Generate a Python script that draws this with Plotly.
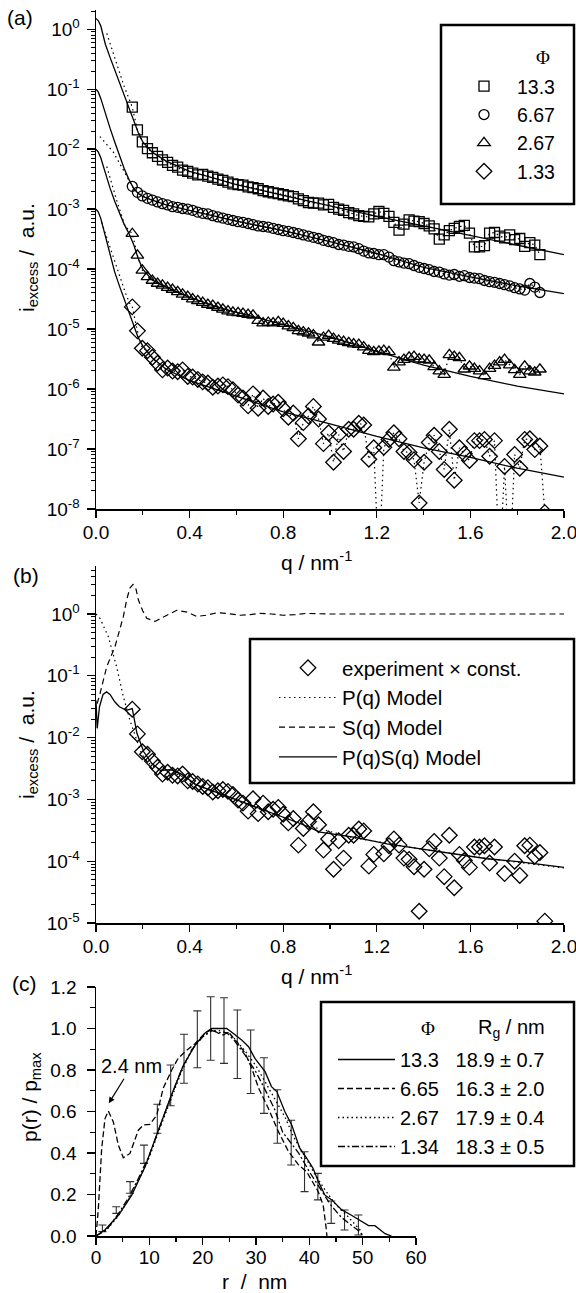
import numpy as np
import plotly.graph_objects as go

# ---------------- panel (a): excess scattering intensity (log10 values) ----------------
q_a = [0.155, 0.177, 0.198, 0.220, 0.241, 0.263, 0.284, 0.306, 0.327, 0.349,
       0.370, 0.392, 0.413, 0.435, 0.456, 0.478, 0.499, 0.521, 0.542, 0.564,
       0.585, 0.607, 0.628, 0.650, 0.671, 0.693, 0.714, 0.736, 0.757, 0.779,
       0.800, 0.822, 0.843, 0.865, 0.886, 0.908, 0.929, 0.951, 0.972, 0.994,
       1.015, 1.037, 1.058, 1.080, 1.101, 1.123, 1.144, 1.166, 1.187, 1.209,
       1.230, 1.252, 1.273, 1.295, 1.316, 1.338, 1.359, 1.381, 1.402, 1.424,
       1.445, 1.467, 1.488, 1.510, 1.531, 1.553, 1.574, 1.596, 1.617, 1.639,
       1.660, 1.682, 1.703, 1.725, 1.746, 1.768, 1.789, 1.811, 1.832, 1.854,
       1.875, 1.897, 1.918]

log_i_phi13_3 = [-1.30, -1.68, -1.88, -1.99, -2.06, -2.12, -2.18, -2.22, -2.27, -2.30,
                 -2.35, -2.37, -2.40, -2.43, -2.42, -2.45, -2.47, -2.50, -2.52, -2.55,
                 -2.58, -2.59, -2.60, -2.63, -2.64, -2.66, -2.69, -2.71, -2.73, -2.74,
                 -2.76, -2.78, -2.79, -2.83, -2.86, -2.89, -2.90, -2.90, -2.93, -2.92,
                 -2.97, -3.00, -3.02, -3.06, -3.08, -3.11, -3.12, -3.13, -3.08, -3.04,
                 -3.07, -3.12, -3.22, -3.35, -3.25, -3.18, -3.20, -3.21, -3.24, -3.28,
                 -3.33, -3.50, -3.43, -3.36, -3.32, -3.29, -3.27, -3.40, -3.63, -3.63,
                 -3.61, -3.40, -3.39, -3.45, -3.48, -3.43, -3.51, -3.49, -3.62, -3.56,
                 -3.60, -3.76, None]

log_i_phi6_67 = [-2.62, -2.72, -2.78, -2.82, -2.85, -2.88, -2.91, -2.93, -2.96, -2.97,
                 -2.99, -3.00, -3.02, -3.05, -3.07, -3.08, -3.11, -3.13, -3.15, -3.17,
                 -3.19, -3.21, -3.22, -3.24, -3.26, -3.28, -3.29, -3.30, -3.32, -3.34,
                 -3.36, -3.37, -3.39, -3.41, -3.43, -3.45, -3.47, -3.49, -3.52, -3.54,
                 -3.56, -3.59, -3.60, -3.62, -3.63, -3.66, -3.70, -3.73, -3.74, -3.76,
                 -3.76, -3.80, -3.86, -3.88, -3.90, -3.91, -3.94, -3.97, -3.99, -4.01,
                 -4.04, -4.05, -4.08, -4.10, -4.09, -4.12, -4.11, -4.14, -4.15, -4.16,
                 -4.19, -4.21, -4.22, -4.24, -4.26, -4.28, -4.31, -4.33, -4.35, -4.24,
                 -4.30, -4.39, None]

log_i_phi2_67 = [-3.41, -3.77, -4.02, -4.13, -4.19, -4.24, -4.27, -4.31, -4.34, -4.38,
                 -4.42, -4.46, -4.50, -4.53, -4.56, -4.59, -4.61, -4.64, -4.67, -4.70,
                 -4.72, -4.73, -4.74, -4.76, -4.77, -4.86, -4.90, -4.89, -4.90, -4.88,
                 -4.91, -4.95, -4.98, -5.03, -5.05, -5.07, -5.10, -5.22, -5.14, -5.11,
                 -5.16, -5.19, -5.21, -5.23, -5.25, -5.26, -5.30, -5.36, -5.38, -5.37,
                 -5.36, -5.38, -5.64, -5.55, -5.51, -5.47, -5.46, -5.50, -5.51, -5.52,
                 -5.63, -5.70, -5.76, -5.43, -5.46, -5.48, -5.67, -5.62, -5.66, -5.70,
                 -5.78, -5.66, -5.61, -5.55, -5.51, -5.60, -5.68, -5.76, -5.62, -5.70,
                 -5.72, -5.67, None]

log_i_phi1_33 = [-4.63, -5.03, -5.32, -5.36, -5.47, -5.57, -5.68, -5.65, -5.70, -5.71,
                 -5.68, -5.79, -5.80, -5.84, -5.88, -5.90, -5.97, -5.95, -5.93, -5.96,
                 -6.01, -6.10, -6.15, -6.28, -6.08, -6.32, -6.15, -6.29, -6.25, -6.22,
                 -6.33, -6.47, -6.40, -6.83, -6.56, -6.45, -6.29, -6.50, -6.91, -6.73,
                 -7.22, -6.76, -7.04, -6.67, -6.67, -6.57, -6.60, -7.17, -6.98, -9.00,
                 -6.97, -6.84, -6.73, -6.83, -7.04, -7.06, -7.18, -7.90, -7.22, -6.89,
                 -6.77, -7.04, -7.34, -6.67, -7.52, -6.98, -7.08, -7.19, -6.86, -6.86,
                 -6.84, -7.12, -6.86, -9.00, -7.29, -9.00, -7.09, -7.32, -6.84, -6.83,
                 -7.01, -6.95, -8.06]

# model fits (solid lines)
fit_q = [0.00, 0.01, 0.02, 0.03, 0.04, 0.06, 0.08, 0.10, 0.12, 0.14, 0.16, 0.18, 0.20,
         0.24, 0.30, 0.40, 0.50, 0.60, 0.80, 1.00, 1.20, 1.40, 1.60, 1.80, 2.00]
log_fit_phi13_3 = [0.18, 0.14, 0.06, -0.10, -0.25, -0.47, -0.68, -0.88, -1.08, -1.28, -1.50, -1.72, -1.88,
                   -2.05, -2.20, -2.37, -2.48, -2.59, -2.77, -2.95, -3.12, -3.28, -3.44, -3.60, -3.76]
log_fit_phi6_67 = [-1.00, -1.05, -1.15, -1.28, -1.42, -1.65, -1.88, -2.10, -2.32, -2.50, -2.65, -2.74, -2.79,
                   -2.85, -2.93, -3.02, -3.11, -3.20, -3.36, -3.54, -3.74, -3.97, -4.13, -4.28, -4.41]
log_fit_phi2_67 = [-2.00, -2.05, -2.14, -2.27, -2.42, -2.65, -2.87, -3.07, -3.25, -3.40, -3.58, -3.82, -4.00,
                   -4.18, -4.30, -4.47, -4.61, -4.72, -4.92, -5.13, -5.37, -5.60, -5.79, -5.95, -6.08]
log_fit_phi1_33 = [-3.00, -3.05, -3.15, -3.30, -3.47, -3.78, -4.05, -4.28, -4.50, -4.72, -4.94, -5.14, -5.28,
                   -5.48, -5.67, -5.86, -5.99, -6.12, -6.38, -6.58, -6.79, -6.98, -7.14, -7.32, -7.47]

# low-q continuation of the dotted data curves
ext_q_phi13_3 = [0.046, 0.088, 0.120, 0.145]
log_ext_phi13_3 = [-0.07, -0.57, -0.95, -1.20]
ext_q_phi6_67 = [0.017, 0.074, 0.117, 0.145]
log_ext_phi6_67 = [-1.79, -2.05, -2.35, -2.56]
ext_q_phi2_67 = [0.046, 0.088, 0.124, 0.145]
log_ext_phi2_67 = [-2.29, -2.85, -3.28, -3.38]
ext_q_phi1_33 = [0.024, 0.060, 0.100, 0.126, 0.145]
log_ext_phi1_33 = [-3.22, -3.62, -4.10, -4.40, -4.58]

# ---------------- panel (b): Phi = 1.33 data and models ----------------
exp_const = 1.23e3
pq_q = [0.0, 0.017, 0.053, 0.088, 0.117, 0.145, 0.174, 0.195, 0.22, 0.26, 0.30, 0.36, 0.43,
        0.53, 0.60, 0.76, 0.90, 1.10, 1.40, 1.70, 2.00]
log_pq = [0.0, -0.07, -0.37, -0.85, -1.34, -1.72, -2.04, -2.26, -2.40, -2.50, -2.55, -2.61, -2.77,
          -2.92, -3.02, -3.24, -3.42, -3.62, -3.81, -3.97, -4.11]
s_q = [0.005, 0.017, 0.046, 0.081, 0.117, 0.131, 0.145, 0.158, 0.170, 0.181, 0.200, 0.217, 0.252,
       0.302, 0.345, 0.390, 0.430, 0.470, 0.516, 0.560, 0.615, 0.660, 0.700, 0.750, 0.800, 0.850,
       0.900, 1.000, 1.200, 1.500, 2.000]
log_s = [-1.45, -1.29, -0.85, -0.53, -0.04, 0.23, 0.42, 0.48, 0.42, 0.23, 0.05, -0.07, -0.12,
         -0.02, 0.06, 0.03, -0.04, -0.02, 0.02, 0.01, -0.02, -0.01, 0.01, 0.0, -0.02, -0.01,
         0.01, 0.0, 0.0, 0.0, 0.0]
pqsq_q = [0.0, 0.005, 0.015, 0.03, 0.045, 0.06, 0.08, 0.10, 0.13, 0.155, 0.175, 0.204, 0.239,
          0.275, 0.318, 0.36, 0.432, 0.531, 0.603, 0.674, 0.759, 0.873, 0.958, 1.101, 1.244,
          1.386, 1.529, 1.671, 1.813, 2.0]
log_pqsq = [-1.40, -1.85, -1.50, -1.30, -1.26, -1.30, -1.42, -1.50, -1.56, -1.53, -1.93, -2.23, -2.42,
            -2.53, -2.52, -2.58, -2.77, -2.91, -3.01, -3.12, -3.23, -3.39, -3.53, -3.61, -3.72,
            -3.80, -3.88, -3.96, -4.01, -4.10]

# ---------------- panel (c): pair distance distributions ----------------
r_phi13_3 = [0, 1.7, 4.2, 6.7, 9.2, 11.4, 13.9, 16.4, 18.6, 20.4, 21.7, 23.2, 24.5, 25.7, 27.3,
             28.6, 29.8, 31.7, 32.9, 33.9, 35.4, 36.7, 38.2, 39.5, 40.7, 41.7, 42.9, 44.2, 46.1,
             47.9, 49.8, 51.1, 52.3, 54.2, 55.4]
p_phi13_3 = [0, 0.03, 0.10, 0.197, 0.334, 0.487, 0.664, 0.824, 0.92, 0.977, 1.0, 1.0, 1.0, 0.977,
             0.945, 0.912, 0.856, 0.792, 0.72, 0.696, 0.60, 0.535, 0.423, 0.375, 0.326, 0.262,
             0.198, 0.174, 0.126, 0.10, 0.069, 0.05, 0.05, 0.011, 0.0]
r_phi6_65 = [0, 0.44, 1.06, 1.69, 2.31, 3.25, 4.19, 5.12, 6.37, 7.94, 8.9, 10.1, 11.4, 12.6, 14.2,
             15.4, 16.7, 18.6, 20.4, 21.7, 22.9, 23.9, 24.8, 26.4, 28.0, 29.2, 30.5, 32.3, 34.2,
             36.1, 38.0, 39.5, 41.7, 42.6, 43.1, 43.3]
p_phi6_65 = [0, 0.132, 0.42, 0.566, 0.602, 0.55, 0.438, 0.377, 0.398, 0.51, 0.535, 0.538, 0.583,
             0.712, 0.80, 0.856, 0.888, 0.928, 0.977, 0.997, 0.977, 0.968, 0.984, 0.936, 0.88,
             0.808, 0.712, 0.616, 0.503, 0.407, 0.342, 0.31, 0.212, 0.148, 0.05, 0.0]
r_phi2_67 = [0, 2, 4, 6, 8, 10, 12, 14, 16, 18, 20, 21.7, 23, 24.5, 26, 28, 30, 32, 34, 35.5, 37,
             39, 41, 43, 45, 47, 48.5, 49.5, 50]
p_phi2_67 = [0, 0.03, 0.09, 0.17, 0.27, 0.38, 0.52, 0.66, 0.79, 0.90, 0.96, 0.99, 0.99, 0.985,
             0.95, 0.89, 0.82, 0.73, 0.64, 0.57, 0.48, 0.39, 0.30, 0.22, 0.15, 0.10, 0.06, 0.03, 0.0]
r_phi1_34 = [0, 2, 4, 6, 8, 10, 12, 14, 16, 18, 20, 21.7, 23, 24.5, 26, 28, 30, 32, 33.5, 35, 36.5,
             38, 40, 42, 44, 46, 48, 49.5, 50]
p_phi1_34 = [0, 0.03, 0.10, 0.18, 0.28, 0.39, 0.53, 0.67, 0.80, 0.90, 0.96, 0.99, 0.98, 0.98, 0.94,
             0.87, 0.79, 0.69, 0.61, 0.50, 0.45, 0.40, 0.31, 0.23, 0.15, 0.09, 0.05, 0.02, 0.0]
err_r = [1.2, 3.8, 6.4, 9.0, 11.5, 14.0, 16.5, 19.0, 21.5, 24.0, 26.5, 29.0, 31.5, 34.0, 36.6,
         39.1, 41.6, 44.1, 46.6, 49.2]
err_p = [0.037, 0.125, 0.234, 0.394, 0.565, 0.726, 0.854, 0.948, 1.0, 0.99, 0.924, 0.84, 0.725,
         0.576, 0.45, 0.31, 0.238, 0.115, 0.077, 0.053]
err_d = [0.016, 0.016, 0.028, 0.044, 0.07, 0.098, 0.118, 0.137, 0.153, 0.158, 0.165, 0.153, 0.134,
         0.129, 0.108, 0.096, 0.064, 0.054, 0.048, 0.048]

legend_a = ["13.3", "6.67", "2.67", "1.33"]
legend_b = ["experiment \u00d7 const.", "P(q) Model", "S(q) Model", "P(q)S(q) Model"]
legend_c_phi = ["13.3", "6.65", "2.67", "1.34"]
legend_c_rg = ["18.9 \u00b1 0.7", "16.3 \u00b1 2.0", "17.9 \u00b1 0.4", "18.3 \u00b1 0.5"]


def e10(v):
    return np.power(10.0, np.array(v, dtype=float))


# ---------------- layout geometry (pixels -> paper) ----------------
W, H = 576, 1293
ML, MR, MT, MB = 96, 12, 10, 57
PW, PH = W - ML - MR, H - MT - MB


def px(x):
    return (x - ML) / PW


def py(y):
    return (H - MB - y) / PH


FONT = "Liberation Sans, Arial, sans-serif"
SERIF = "Liberation Serif, Times New Roman, serif"
K = "black"
DOT = "1.5px,3.5px"

fig = go.Figure()

# ---- panel (a)
series_a = [
    (legend_a[0], log_i_phi13_3, log_fit_phi13_3, ext_q_phi13_3, log_ext_phi13_3, "square-open", 10),
    (legend_a[1], log_i_phi6_67, log_fit_phi6_67, ext_q_phi6_67, log_ext_phi6_67, "circle-open", 10),
    (legend_a[2], log_i_phi2_67, log_fit_phi2_67, ext_q_phi2_67, log_ext_phi2_67, "triangle-up-open", 11),
    (legend_a[3], log_i_phi1_33, log_fit_phi1_33, ext_q_phi1_33, log_ext_phi1_33, "diamond-open", 12),
]
for name, logv, fitlog, extq, extlog, sym, size in series_a:
    fig.add_trace(go.Scatter(x=fit_q, y=e10(fitlog), mode="lines", line=dict(color=K, width=1.3),
                             showlegend=False, hoverinfo="skip", xaxis="x", yaxis="y"))
    fig.add_trace(go.Scatter(x=extq + q_a, y=e10(extlog + logv), mode="lines",
                             line=dict(color=K, width=1.2, dash=DOT),
                             showlegend=False, hoverinfo="skip", xaxis="x", yaxis="y"))
for name, logv, fitlog, extq, extlog, sym, size in series_a:
    fig.add_trace(go.Scatter(x=q_a, y=e10(logv), mode="markers", name=name,
                             marker=dict(symbol=sym, size=size, color=K, line=dict(width=1.3, color=K)),
                             xaxis="x", yaxis="y", legend="legend"))

# ---- panel (b)
fig.add_trace(go.Scatter(x=pq_q, y=e10(log_pq), mode="lines", name=legend_b[1],
                         line=dict(color=K, width=1.2, dash=DOT), xaxis="x2", yaxis="y2",
                         legend="legend2", legendrank=2))
fig.add_trace(go.Scatter(x=s_q, y=e10(log_s), mode="lines", name=legend_b[2],
                         line=dict(color=K, width=1.2, dash="6px,4px"), xaxis="x2", yaxis="y2",
                         legend="legend2", legendrank=3))
fig.add_trace(go.Scatter(x=pqsq_q, y=e10(log_pqsq), mode="lines", name=legend_b[3],
                         line=dict(color=K, width=1.3), xaxis="x2", yaxis="y2",
                         legend="legend2", legendrank=4))
fig.add_trace(go.Scatter(x=q_a, y=e10(log_i_phi1_33) * exp_const, mode="markers", name=legend_b[0],
                         marker=dict(symbol="diamond-open", size=12, color=K, line=dict(width=1.3, color=K)),
                         xaxis="x2", yaxis="y2", legend="legend2", legendrank=1))

# ---- panel (c)
fig.add_trace(go.Scatter(x=err_r, y=err_p, mode="markers", marker=dict(size=1, color="rgba(0,0,0,0)"),
                         error_y=dict(type="data", array=err_d, visible=True, color="#303030",
                                      thickness=1.1, width=4),
                         showlegend=False, hoverinfo="skip", xaxis="x3", yaxis="y3"))
dash_c = ["solid", "6px,3px", "1.5px,3px", "7px,2.5px,2px,2.5px"]
curves_c = [(r_phi13_3, p_phi13_3), (r_phi6_65, p_phi6_65), (r_phi2_67, p_phi2_67), (r_phi1_34, p_phi1_34)]
for (rr, pp), phi, rg, dsh in zip(curves_c, legend_c_phi, legend_c_rg, dash_c):
    fig.add_trace(go.Scatter(x=rr, y=pp, mode="lines",
                             name=phi + "\u00a0\u00a0\u00a0" + rg,
                             line=dict(color=K, width=1.3, dash=dsh),
                             xaxis="x3", yaxis="y3", legend="legend3"))

# ---------------- axes ----------------
tickfont = dict(family=FONT, size=19, color=K)
titlefont = dict(family=FONT, size=21, color=K)
base = dict(showline=True, linecolor=K, linewidth=1.5, ticks="outside", tickcolor=K, tickwidth=1.3,
            showgrid=False, zeroline=False, mirror=False, tickfont=tickfont, ticklabeloverflow="allow")


def log_axis(lo, hi, domain):
    majors = [10.0 ** k for k in range(lo, 1)]
    texts = ["10<sup>%d</sup>" % k for k in range(lo, 1)]
    minors = [d * 10.0 ** k for k in range(lo, 1) for d in range(2, 10)]
    return dict(base, type="log", range=[lo, hi], domain=domain, tickmode="array",
                tickvals=majors, ticktext=texts, ticklen=8, ticklabelstandoff=3,
                minor=dict(tickmode="array", tickvals=minors, ticks="outside", ticklen=4,
                           tickcolor=K, tickwidth=1))


def q_axis(anchor):
    return dict(base, range=[0, 2], domain=[0, 1], anchor=anchor, tickmode="linear", tick0=0,
                dtick=0.4, tickformat=".1f", ticklen=7, ticklabelstandoff=-1,
                minor=dict(ticks="outside", dtick=0.2, tick0=0, ticklen=4, tickcolor=K, tickwidth=1.3))


fig.update_layout(
    xaxis=q_axis("y"),
    yaxis=dict(log_axis(-8, 0.32, [py(509), 1.0]), anchor="x"),
    xaxis2=q_axis("y2"),
    yaxis2=dict(log_axis(-5, 0.777, [py(923), py(566)]), anchor="x2"),
    xaxis3=dict(base, range=[0, 60], domain=[0, px(416)], anchor="y3", tickmode="linear", tick0=0,
                dtick=10, ticklen=7, ticklabelstandoff=-3,
                minor=dict(ticks="outside", dtick=5, tick0=0, ticklen=4, tickcolor=K, tickwidth=1.3)),
    yaxis3=dict(base, range=[0, 1.2], domain=[0, py(987)], anchor="x3", tickmode="linear", tick0=0,
                dtick=0.2, tickformat=".1f", ticklen=8, ticklabelstandoff=6,
                minor=dict(ticks="outside", dtick=0.1, tick0=0, ticklen=5, tickcolor=K, tickwidth=1.3)),
)

leg_common = dict(xanchor="left", yanchor="top", bgcolor="rgba(0,0,0,0)", borderwidth=0,
                  tracegroupgap=0)
fig.update_layout(
    legend=dict(leg_common, x=px(451), y=py(67), itemwidth=56, font=dict(family=FONT, size=19.5, color=K)),
    legend2=dict(leg_common, x=px(274), y=py(648), itemwidth=58, font=dict(family=FONT, size=20.5, color=K)),
    legend3=dict(leg_common, x=px(333), y=py(1040), itemwidth=57, font=dict(family=FONT, size=20, color=K)),
)

# legend frames
frames = [(441, 25, 574, 204), (250, 639, 574, 783), (321, 1002, 574, 1166)]
shapes = [dict(type="rect", xref="paper", yref="paper", x0=px(a), x1=px(c), y0=py(d), y1=py(b),
               line=dict(color=K, width=2.5), fillcolor="rgba(0,0,0,0)", layer="above")
          for a, b, c, d in frames]

ann = []
for txt, x, y in [("(a)", 20, 18), ("(b)", 26, 575), ("(c)", 24, 983)]:
    ann.append(dict(text=txt, x=px(x), y=py(y), xref="paper", yref="paper", showarrow=False,
                    xanchor="center", yanchor="middle", font=dict(family=FONT, size=21, color=K)))
# axis titles
ytitle = "i<sub>excess</sub>\u00a0/\u00a0\u00a0a.u."
for txt, x, y, ang in [(ytitle, 28, 258, -90), (ytitle, 28, 745, -90),
                       ("p(r) / p<sub>max</sub>", 31, 1097, -90),
                       ("q / nm<sup>-1</sup>", 316, 561, 0), ("q / nm<sup>-1</sup>", 316, 975, 0),
                       ("r\u00a0\u00a0/\u00a0\u00a0nm", 254, 1281, 0)]:
    ann.append(dict(text=txt, x=px(x), y=py(y), xref="paper", yref="paper", showarrow=False,
                    textangle=ang, xanchor="center", yanchor="middle", font=titlefont))
# legend headers
ann.append(dict(text="\u03a6", x=px(543), y=py(58), xref="paper", yref="paper", showarrow=False,
                xanchor="center", yanchor="middle", font=dict(family=SERIF, size=19, color=K)))
ann.append(dict(text="\u03a6", x=px(428), y=py(1028), xref="paper", yref="paper", showarrow=False,
                xanchor="center", yanchor="middle", font=dict(family=SERIF, size=19, color=K)))
ann.append(dict(text="R<sub>g</sub> / nm", x=px(511), y=py(1028), xref="paper", yref="paper",
                showarrow=False, xanchor="center", yanchor="middle",
                font=dict(family=FONT, size=20, color=K)))
ann.append(dict(text="2.4 nm", x=2.4, y=0.64, xref="x3", yref="y3", showarrow=True, arrowhead=2,
                arrowsize=1, arrowwidth=1.2, arrowcolor=K, ax=23, ay=-37,
                font=dict(family=FONT, size=20, color=K)))

fig.update_layout(width=W, height=H, margin=dict(l=ML, r=MR, t=MT, b=MB, autoexpand=False),
                  paper_bgcolor="white", plot_bgcolor="white", shapes=shapes, annotations=ann,
                  font=dict(family=FONT, color=K))

# remove the browser's default 8px page margin so the 576x1293 figure fills the window exactly
fig.write_html("out.html", config={"displayModeBar": False, "staticPlot": True},
               post_script="document.body.style.margin='0px';document.body.style.overflow='hidden';")
